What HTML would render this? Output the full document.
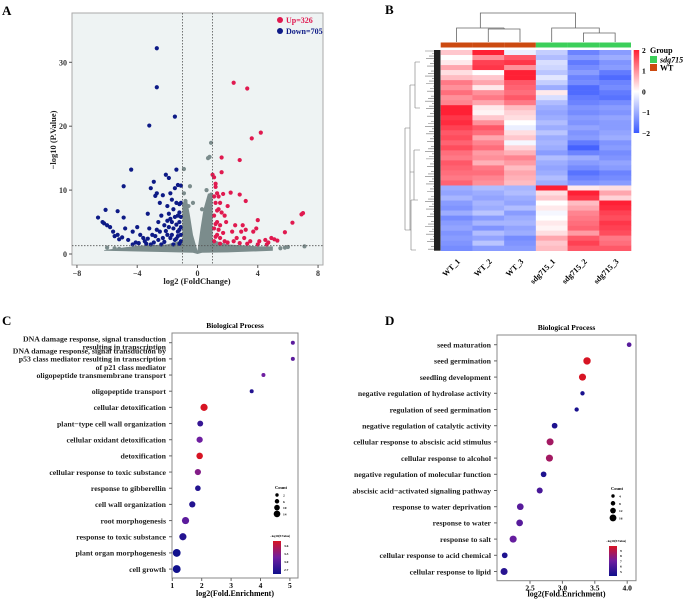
<!DOCTYPE html>
<html><head><meta charset="utf-8">
<style>
html,body{margin:0;padding:0;background:#fff;}
svg{display:block;font-family:"Liberation Serif",serif;}
.b{font-weight:bold;}
</style></head>
<body>
<svg id="fig" width="685" height="600" viewBox="0 0 685 600">
<g id="pa"></g>
<g id="pb"></g>
<g id="pc"></g>
<g id="pd"></g>
</svg>
<script>
// ---------- Panel A data ----------
const downPts=[[-6.6,5.7],[-6.3,5],[-6.1,6.9],[-6,4.5],[-5.8,4.2],[-5.6,3.5],[-5.3,6.7],[-5.3,3],[-5,2.6],[-4.9,10.6],[-4.9,5.7],[-4.8,4],[-4.6,2.2],[-4.4,13.2],[-4.3,3.5],[-4.1,1.8],[-4,4.2],[-3.8,3],[-3.6,2.5],[-3.5,2],[-3.3,6.3],[-3.2,20.1],[-3.2,4],[-3.1,10.3],[-3,3],[-2.9,11.3],[-2.8,9.1],[-2.7,32.2],[-2.7,26.1],[-2.7,9.5],[-2.6,5],[-2.5,3.5],[-2.5,8],[-2.4,6],[-2.3,9.2],[-2.2,4.5],[-2.1,12.4],[-2,7.5],[-2,3],[-1.9,11.9],[-1.8,9.5],[-1.8,5.5],[-1.7,8.5],[-1.6,7],[-1.6,4],[-1.5,21.5],[-1.5,10.3],[-1.4,13.2],[-1.4,8],[-1.3,10.8],[-1.3,6],[-1.2,7.8],[-1.2,5],[-1.1,10.7],[-1.1,3],[-3.9,1.7],[-3.4,1.6],[-2.9,1.8],[-2.6,2.2],[-2.2,1.9],[-1.8,2.5],[-1.5,2.2],[-1.3,3.5],[-1.1,2],[-1.2,1.6],[-1.6,1.5],[-2.4,1.5],[-3.1,1.5],[-4.3,1.5],[-5.2,2.3],[-5.5,2.8],[-6.2,4.8],[-2.3,2.5],[-2.1,3.6],[-1.9,4.2],[-1.7,3],[-1.4,4.6],[-1.2,6.5],[-1.1,8],[-2.8,2.8],[-3.3,2.4],[-1.9,6.3],[-1.5,5.8],[-1.3,2.8],[-1.1,4.2],[-1.1,5.8],[-1.2,3.8],[-1.4,2.4],[-1.7,5],[-2.0,5.2],[-2.7,3.8]];
const upPts=[[1,12.4],[1.1,12],[1.2,11],[1.3,9.5],[1.2,10.5],[1.4,9],[1.5,8],[1.6,15.1],[1.6,12.8],[1.4,7],[1.7,9.4],[1.8,6],[1.9,5],[2,7.5],[2.2,9.6],[2.3,3.5],[2.4,26.8],[2.5,4.5],[2.6,2.5],[2.8,14.7],[2.8,9.3],[2.9,3.5],[3,4.5],[3.1,2.5],[3.2,8.3],[3.3,25.9],[3.2,3.8],[3.5,2],[3.6,18.1],[3.7,3.5],[3.9,4],[4,5.3],[4.1,2],[4.2,19],[4.5,2.2],[4.7,1.8],[4.9,2.5],[5.1,2.3],[5.3,2.1],[5.8,3.4],[6.3,4.9],[6.9,6.2],[7,6.4],[1.1,4],[1.3,3],[1.5,2.5],[1.8,2],[2,1.8],[2.4,2],[2.8,1.7],[3.3,1.6],[4,1.5],[4.6,1.5],[1.1,6],[1.2,8],[1.3,5],[1.4,3.8],[1.1,2],[1.2,2.7],[1.5,4.5],[1.6,6.5],[1.7,3.3],[1.3,6.8],[1.1,9],[1.2,4.7],[1.5,1.6]];
const nsPts=[[0.9,17.4],[0.8,15.2],[0.7,15],[-0.9,13.3],[-0.5,10.6],[-0.3,8],[-0.9,9.5],[7.1,1.2],[5.8,1],[5.5,0.9],[6,1.1],[-6,1],[-5.5,0.9],[-5.2,0.8],[0.6,10],[0.3,7],[-0.8,8.3],[-0.6,7.5],[0.9,9.3]];
const nsBand=[[-6.2,0.6],[-4,1.3],[-2,1.5],[-1,2.2],[-1,8],[-0.7,8.5],[-0.5,6],[-0.3,3],[0,0.5],[0.2,4],[0.4,7],[0.7,9.5],[1,9],[1,2.2],[2,1.5],[4,1.2],[5,1.2],[5,0.5],[2,0.25],[0.3,0.2],[0,0],[-0.3,0.2],[-2,0.3],[-6.2,0.5]];
const volXTicks=[-8,-4,0,4,8];
const volYTicks=[0,10,20,30];
const upCount=326, downCount=705;
// ---------- Panel B data ----------
const hmCols=["WT_1","WT_2","WT_3","sdg715_1","sdg715_2","sdg715_3"];
const hmRows=[[0.5,2,-0.2,-0.6,-1.5,-1.2],[0,1,1.5,-0.8,-1.2,-1],[0.2,1.7,1.8,-0.4,-1.6,-1.3],[0.8,1.8,1,-0.5,-1.4,-1.2],[0.3,0,2,-0.7,-1.2,-1.6],[0.6,0.5,2,-0.3,-1.5,-1.8],[1.2,0.8,1.5,-0.6,-1.4,-1.5],[1,0.2,1.4,-1,-1.8,-1.4],[1.3,1,1.3,0.2,-1.8,-1.6],[1,1.2,1.5,-0.4,-1.6,-1.7],[1.1,0.8,1.2,-0.8,-1.5,-1.4],[2,0.2,0.6,-1,-1.3,-1.2],[2,0.1,0.4,-1.1,-1.4,-1.3],[1.8,0.5,0.3,-1,-1.2,-1.1],[1.9,1,0,-0.8,-1.3,-1.2],[1.7,1.5,-0.2,-1,-1.1,-1.2],[1.5,1.3,0.3,-0.7,-1.3,-1.1],[1.6,0.8,0.5,-1,-1.2,-1],[1.4,1.1,-0.1,-0.9,-1.6,-1.3],[1.6,1.3,0.4,-1,-1.9,-1.2],[1.3,0.9,0.7,-1.2,-1.5,-1.4],[1.2,1,1.1,-0.8,-1,-1.3],[1.5,0.7,0.9,-1,-1.2,-1.1],[1.4,1.2,0.6,-1.1,-1.4,-1.2],[1.3,1.3,0.8,-1,-1.7,-1.5],[1.2,1.1,0.7,-0.8,-1.5,-1.4],[1.4,1,0.6,-1,-1.3,-1.2],[-1,-0.8,-0.9,2,0.2,0.3],[-1.1,-1,-0.8,0.3,2,0.8],[-0.9,-1.1,-1,0.5,1.8,0.4],[-1.2,-0.9,-1.1,0,0.6,2],[-1.3,-1,-0.8,0.2,0.8,1.9],[-1,-0.7,-1.2,-0.1,1.1,1.7],[-1.4,-1.2,-1,0,1.2,1.6],[-1.2,-0.9,-0.9,0.2,1.3,1.8],[-1.1,-1.3,-1.1,0.1,1.4,1.7],[-1.3,-0.8,-1,0.3,0.9,1.6],[-1.2,-1.1,-1.4,0.8,1.5,1.2],[-1.3,-0.7,-1.3,0.5,1.7,1.3],[-1.4,-1.2,-1.2,0.6,1.5,1.5]];
const hmScaleTicks=[2,1,0,-1,-2];
// ---------- Panel C data ----------
const cTerms=[["DNA damage response, signal transduction","resulting in transcription"],["DNA damage response, signal transduction by","p53 class mediator resulting in transcription","of p21 class mediator"],["oligopeptide transmembrane transport"],["oligopeptide transport"],["cellular detoxification"],["plant−type cell wall organization"],["cellular oxidant detoxification"],["detoxification"],["cellular response to toxic substance"],["response to gibberellin"],["cell wall organization"],["root morphogenesis"],["response to toxic substance"],["plant organ morphogenesis"],["cell growth"]];
const cFold=[5.1,5.1,4.1,3.7,2.08,1.95,1.93,1.93,1.87,1.87,1.68,1.45,1.36,1.15,1.15];
const cCount=[2,2,2,2,12,8,9,10,9,7,9,12,12,14,14];
const cLogP=[3.1,3.1,3.2,2.8,3.7,2.9,3.2,3.7,3.3,2.8,2.8,3.1,2.8,2.7,2.7];
const cXTicks=[1,2,3,4,5];
const cCountTicks=[2,6,10,14];
const cColorTicks=["3.6","3.3","3.0","2.7"];
// ---------- Panel D data ----------
const dTerms=["seed maturation","seed germination","seedling development","negative regulation of hydrolase activity","regulation of seed germination","negative regulation of catalytic activity","cellular response to abscisic acid stimulus","cellular response to alcohol","negative regulation of molecular function","abscisic acid−activated signaling pathway","response to water deprivation","response to water","response to salt","cellular response to acid chemical","cellular response to lipid"];
const dFold=[4.03,3.38,3.31,3.31,3.22,2.88,2.81,2.80,2.71,2.65,2.35,2.34,2.24,2.11,2.10];
const dCount=[6,14,13,5,5,9,13,13,9,10,12,12,13,9,13];
const dLogP=[6.5,9,9,5.2,5.2,5.3,8,8,5.3,6.2,6.5,6.5,6.8,5.3,5.5];
const dXTicks=[2.5,3.0,3.5,4.0];
const dCountTicks=[4,8,12,16];
const dColorTicks=["9","8","7","6","5"];

const NS="http://www.w3.org/2000/svg";
function mk(parent,tag,attrs,text){const e=document.createElementNS(NS,tag);for(const k in attrs)e.setAttribute(k,attrs[k]);if(text!==undefined)e.textContent=text;parent.appendChild(e);return e;}

// ===== Panel A =====
(function(){
const g=document.getElementById('pa');
const L=72,R=323,T=13,B=265;
const sx=v=>197.5+v*15.07, sy=v=>254-v*6.39;
let t=mk(g,'text',{x:2,y:15,'font-size':13,class:'b'},'A');


let r=mk(g,'rect',{x:L,y:T,width:R-L,height:B-T,fill:'#eef3f3',stroke:'#aaa','stroke-width':1});


let band=mk(g,'polygon',{points:nsBand.map(p=>sx(p[0])+','+sy(p[1])).join(' '),fill:'#7b8c8c'});


const layers=[[nsPts,'#7b8c8c','ns-point'],[downPts,'#0d1a86','down-point'],[upPts,'#e0194f','up-point']];
layers.forEach(([arr,col,nm])=>arr.forEach(p=>{const c=mk(g,'circle',{cx:sx(p[0]),cy:sy(p[1]),r:2.1,fill:col});

}));
[-1,1].forEach(v=>{const l=mk(g,'line',{x1:sx(v),x2:sx(v),y1:T,y2:B,stroke:'#555','stroke-dasharray':'1.5,1.5','stroke-width':0.8});

});
let h=mk(g,'line',{x1:L,x2:R,y1:sy(1.3),y2:sy(1.3),stroke:'#555','stroke-dasharray':'1.5,1.5','stroke-width':0.8});


volXTicks.forEach(v=>{mk(g,'line',{x1:sx(v),x2:sx(v),y1:B,y2:B+3,stroke:'#555'});
const tt=mk(g,'text',{x:sx(v),y:B+11,'font-size':8,'text-anchor':'middle',fill:'#333',class:'b'},v<0?'−'+(-v):String(v));

});
volYTicks.forEach(v=>{mk(g,'line',{x1:L-3,x2:L,y1:sy(v),y2:sy(v),stroke:'#555'});
const tt=mk(g,'text',{x:L-5,y:sy(v)+3,'font-size':8,'text-anchor':'end',fill:'#333',class:'b'},String(v));

});
t=mk(g,'text',{x:197,y:284,'font-size':8.5,'text-anchor':'middle',class:'b',fill:'#222'},'log2 (FoldChange)');


t=mk(g,'text',{x:0,y:0,'font-size':8.5,'text-anchor':'middle',class:'b',fill:'#222',transform:'translate(56,140) rotate(-90)'},'−log10 (P.Value)');


[[20,'#e0194f','Up='+upCount],[31,'#0d1a86','Down='+downCount]].forEach(([y,c,s])=>{
mk(g,'circle',{cx:280,cy:y,r:3,fill:c});
const lt=mk(g,'text',{x:286,y:y+3,'font-size':8,class:'b',fill:c},s);

});
})();

// ===== Panel B =====
(function(){
const g=document.getElementById('pb');
const L=440.7,R=631,T=50,B=250.7;
const cw=(R-L)/hmCols.length, rh=(B-T)/hmRows.length;
function col(v){v=Math.max(-2,Math.min(2,v));const a=Math.abs(v)/2;
if(v>=0){return 'rgb(255,'+Math.round(255-a*223)+','+Math.round(255-a*202)+')';}
return 'rgb('+Math.round(255-a*196)+','+Math.round(255-a*165)+',255)';}
let t=mk(g,'text',{x:385,y:14,'font-size':13,class:'b'},'B');


hmRows.forEach((row,i)=>row.forEach((v,j)=>{const c=mk(g,'rect',{x:L+j*cw,y:T+i*rh,width:cw+0.3,height:rh+0.3,fill:col(v)});

}));
hmCols.forEach((n,j)=>{const gb=mk(g,'rect',{x:L+j*cw,y:42.5,width:cw,height:5,fill:j<3?'#cc4a10':'#3ccf5a'});


const x=L+(j+0.5)*cw;
const tt=mk(g,'text',{x:0,y:0,'font-size':8,'text-anchor':'end',class:'b',transform:'translate('+(x+4)+',262) rotate(-45)'},n);

});
const cx=j=>L+(j+0.5)*cw;
const dpath='M'+cx(0)+',42V28H'+((cx(1)+cx(2))/2)+'M'+cx(1)+',42V29H'+cx(2)+'V42M'+((cx(1)+cx(2))/2)+',29V28'+
'M'+cx(4)+',42V33H'+cx(5)+'V42M'+cx(3)+',42V28H'+((cx(4)+cx(5))/2)+'V33'+
'M'+((cx(0)+(cx(1)+cx(2))/2)/2)+',28V13H'+((cx(3)+(cx(4)+cx(5))/2)/2)+'V28';
let p=mk(g,'path',{d:dpath,fill:'none',stroke:'#666','stroke-width':0.8});


let ld='M410,85H415M410,85V172M410,172H414M415,62V108M415,62H420M415,108H420M414,150V200M414,150H420M414,200H418M410,128V230M405,128H410M405,128V230M405,230H411M411,200V250M411,200H415M411,250H416';
for(let i=0;i<hmRows.length*2;i++){const y=T+i*rh/2+1;ld+='M'+(425+(i*7)%10)+','+y+'H435';}
p=mk(g,'path',{d:ld,fill:'none',stroke:'#777','stroke-width':0.6});


let comb=mk(g,'rect',{x:434,y:T,width:6.5,height:B-T,fill:'#222'});


const defs=mk(g,'defs',{});
const lg=mk(defs,'linearGradient',{id:'hmg',x1:0,y1:0,x2:0,y2:1});
[[0,col(2)],[0.5,col(0)],[1,col(-2)]].forEach(s=>mk(lg,'stop',{offset:s[0],'stop-color':s[1]}));
let cb=mk(g,'rect',{x:633.7,y:50,width:5.5,height:83,fill:'url(#hmg)'});


hmScaleTicks.forEach((v,i)=>{const tt=mk(g,'text',{x:642,y:53+i*20.7,'font-size':7.5,class:'b'},v<0?'−'+(-v):String(v));

});
t=mk(g,'text',{x:650,y:53,'font-size':8,class:'b'},'Group');


[['sdg715','#3ccf5a',56,'italic'],['WT','#cc4a10',64,'normal']].forEach(([s,c,y,st])=>{
mk(g,'rect',{x:650,y:y,width:7,height:7,fill:c});
const tt=mk(g,'text',{x:660,y:y+6.5,'font-size':8,class:'b','font-style':st},s);

});
})();

// ===== Dot plots =====
function gocolor(f){
const a=[16,16,140],b=[110,30,160],c=[215,20,35];let u,v,k;
if(f<0.5){u=a;v=b;k=f/0.5;}else{u=b;v=c;k=(f-0.5)/0.5;}
return 'rgb('+u.map((x,i)=>Math.round(x+(v[i]-x)*k)).join(',')+')';}
function dotPanel(o){
const g=document.getElementById(o.id);
let t=mk(g,'text',{x:o.labX,y:o.labY,'font-size':13,class:'b'},o.letter);


t=mk(g,'text',{x:(o.L+o.R)/2,y:o.T-5,'font-size':7.5,'text-anchor':'middle',class:'b'},'Biological Process');


let r=mk(g,'rect',{x:o.L,y:o.T,width:o.R-o.L,height:o.B-o.T,fill:'#fff',stroke:'#888','stroke-width':1});


const sx=v=>o.x0+(v-o.v0)*o.k;
const sy=i=>o.y0+i*o.dy;
const cmin=o.cmin,cmax=o.cmax;
const rad=c=>2+(c-o.rmin)*o.rk;
o.terms.forEach((lines,i)=>{
const arr=Array.isArray(lines)?lines:[lines];
const y=sy(i);
mk(g,'line',{x1:o.L-3,x2:o.L,y1:y,y2:y,stroke:'#666'});
arr.forEach((s,j)=>{const tt=mk(g,'text',{x:o.L-6,y:y+2.8+(j-(arr.length-1)/2)*8.2,'font-size':7.8,'text-anchor':'end',class:'b',fill:'#222'},s);

});
const c=mk(g,'circle',{cx:sx(o.fold[i]),cy:y,r:rad(o.count[i]),fill:gocolor((o.logp[i]-cmin)/(cmax-cmin))});

});
o.xticks.forEach(v=>{mk(g,'line',{x1:sx(v),x2:sx(v),y1:o.B,y2:o.B+3,stroke:'#666'});
const tt=mk(g,'text',{x:sx(v),y:o.B+10,'font-size':7.5,'text-anchor':'middle',class:'b'},o.fmt(v));

});
t=mk(g,'text',{x:(o.L+o.R)/2,y:o.B+o.xtY,'font-size':8,'text-anchor':'middle',class:'b'},'log2(Fold.Enrichment)');


t=mk(g,'text',{x:o.lgX-2,y:o.lgY,'font-size':4.5,class:'b'},'Count');


o.countTicks.forEach((c,i)=>{const y=o.lgY+6+i*o.lgDy;
const cc=mk(g,'circle',{cx:o.lgX,cy:y,r:rad(c)*0.85,fill:'#000'});


const tt=mk(g,'text',{x:o.lgX+6,y:y+1.5,'font-size':3.5,class:'b'},String(c));

});
t=mk(g,'text',{x:o.cbX-3,y:o.cbY-4,'font-size':3,class:'b'},'−log10(P.Value)');


const defs=mk(g,'defs',{});
const lg=mk(defs,'linearGradient',{id:'g'+o.id,x1:0,y1:0,x2:0,y2:1});
[[0,gocolor(1)],[0.5,gocolor(0.5)],[1,gocolor(0)]].forEach(s=>mk(lg,'stop',{offset:s[0],'stop-color':s[1]}));
r=mk(g,'rect',{x:o.cbX,y:o.cbY,width:8,height:o.cbH,fill:'url(#g'+o.id+')'});


o.colorTicks.forEach((s,i)=>{const tt=mk(g,'text',{x:o.cbX+11,y:o.cbY+6+i*(o.cbH-8)/(o.colorTicks.length-1)*0.95,'font-size':3.5,class:'b'},s);

});
}
dotPanel({id:'pc',letter:'C',labX:2,labY:325,L:172,R:298,T:333,B:578,x0:172.3,v0:1,k:29.4,y0:342.7,dy:16.17,
terms:cTerms,fold:cFold,count:cCount,logp:cLogP,cmin:2.7,cmax:3.7,rmin:2,rk:0.16,xticks:cXTicks,fmt:v=>String(v),xtY:18,
lgX:277,lgY:489,lgDy:6.3,countTicks:cCountTicks,cbX:273,cbY:541,cbH:33,colorTicks:cColorTicks});
dotPanel({id:'pd',letter:'D',labX:385,labY:325,L:497,R:636,T:335,B:580.7,x0:530,v0:2.5,k:64.8,y0:344.7,dy:16.2,
terms:dTerms,fold:dFold,count:dCount,logp:dLogP,cmin:5,cmax:9,rmin:4,rk:0.17,xticks:dXTicks,fmt:v=>v.toFixed(1),xtY:16,
lgX:613,lgY:490,lgDy:7.3,countTicks:dCountTicks,cbX:609,cbY:546,cbH:30,colorTicks:dColorTicks});
</script>
</body></html>
